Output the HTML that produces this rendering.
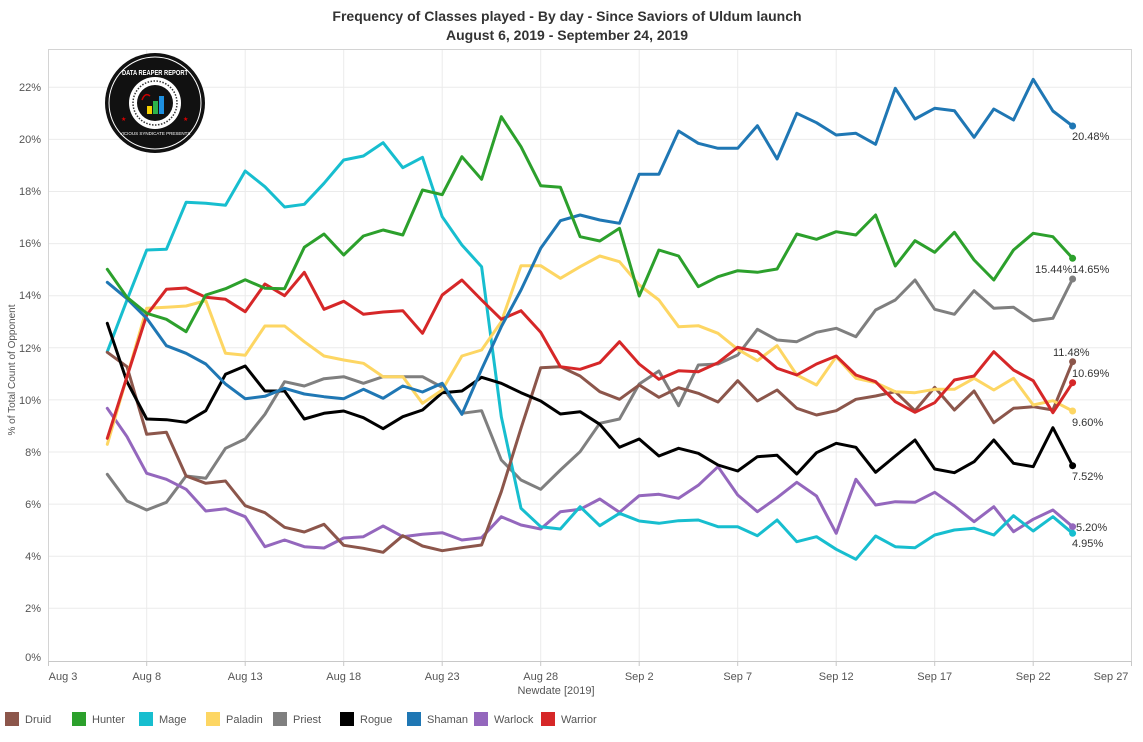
<!DOCTYPE html>
<html><head><meta charset="utf-8"><style>
body{margin:0;background:#fff;font-family:"Liberation Sans",Arial,sans-serif;}
svg{display:block}
</style></head><body>
<svg width="1143" height="742" viewBox="0 0 1143 742" xmlns="http://www.w3.org/2000/svg" font-family="Liberation Sans, Arial, sans-serif">
<rect width="1143" height="742" fill="#fff"/>
<text x="567" y="21" text-anchor="middle" font-size="14" font-weight="bold" fill="#333">Frequency of Classes played - By day - Since Saviors of Uldum launch</text>
<text x="567" y="40" text-anchor="middle" font-size="14" font-weight="bold" fill="#333">August 6, 2019 - September 24, 2019</text>
<g stroke="#ebebeb" stroke-width="1">
<line x1="48" y1="87.3" x2="1132" y2="87.3"/><line x1="48" y1="139.4" x2="1132" y2="139.4"/><line x1="48" y1="191.5" x2="1132" y2="191.5"/><line x1="48" y1="243.6" x2="1132" y2="243.6"/><line x1="48" y1="295.7" x2="1132" y2="295.7"/><line x1="48" y1="347.8" x2="1132" y2="347.8"/><line x1="48" y1="399.9" x2="1132" y2="399.9"/><line x1="48" y1="452" x2="1132" y2="452"/><line x1="48" y1="504.1" x2="1132" y2="504.1"/><line x1="48" y1="556.2" x2="1132" y2="556.2"/><line x1="48" y1="608.3" x2="1132" y2="608.3"/>
<line x1="146.7" y1="49" x2="146.7" y2="662"/><line x1="245.2" y1="49" x2="245.2" y2="662"/><line x1="343.7" y1="49" x2="343.7" y2="662"/><line x1="442.2" y1="49" x2="442.2" y2="662"/><line x1="540.7" y1="49" x2="540.7" y2="662"/><line x1="639.2" y1="49" x2="639.2" y2="662"/><line x1="737.7" y1="49" x2="737.7" y2="662"/><line x1="836.2" y1="49" x2="836.2" y2="662"/><line x1="934.7" y1="49" x2="934.7" y2="662"/><line x1="1033.2" y1="49" x2="1033.2" y2="662"/>
</g>
<line x1="48.5" y1="49" x2="48.5" y2="662" stroke="#d4d4d4"/>
<line x1="48" y1="49.5" x2="1132" y2="49.5" stroke="#d4d4d4"/>
<line x1="1131.5" y1="49" x2="1131.5" y2="662" stroke="#d4d4d4"/>
<line x1="48" y1="661.5" x2="1132" y2="661.5" stroke="#c8c8c8"/>
<g stroke="#c8c8c8"><line x1="48.5" y1="661" x2="48.5" y2="666"/><line x1="146.7" y1="661" x2="146.7" y2="666"/><line x1="245.2" y1="661" x2="245.2" y2="666"/><line x1="343.7" y1="661" x2="343.7" y2="666"/><line x1="442.2" y1="661" x2="442.2" y2="666"/><line x1="540.7" y1="661" x2="540.7" y2="666"/><line x1="639.2" y1="661" x2="639.2" y2="666"/><line x1="737.7" y1="661" x2="737.7" y2="666"/><line x1="836.2" y1="661" x2="836.2" y2="666"/><line x1="934.7" y1="661" x2="934.7" y2="666"/><line x1="1033.2" y1="661" x2="1033.2" y2="666"/><line x1="1131.5" y1="661" x2="1131.5" y2="666"/></g>
<g font-size="11" fill="#555" text-anchor="end">
<text x="41" y="91">22%</text><text x="41" y="143">20%</text><text x="41" y="195">18%</text><text x="41" y="247">16%</text><text x="41" y="299">14%</text><text x="41" y="352">12%</text><text x="41" y="404">10%</text><text x="41" y="456">8%</text><text x="41" y="508">6%</text><text x="41" y="560">4%</text><text x="41" y="612">2%</text><text x="41" y="661">0%</text>
</g>
<g font-size="11" fill="#555" text-anchor="middle">
<text x="63" y="680">Aug 3</text><text x="146.7" y="680">Aug 8</text><text x="245.2" y="680">Aug 13</text><text x="343.7" y="680">Aug 18</text><text x="442.2" y="680">Aug 23</text><text x="540.7" y="680">Aug 28</text><text x="639.2" y="680">Sep 2</text><text x="737.7" y="680">Sep 7</text><text x="836.2" y="680">Sep 12</text><text x="934.7" y="680">Sep 17</text><text x="1033.2" y="680">Sep 22</text><text x="1111" y="680">Sep 27</text>
<text x="556" y="694">Newdate [2019]</text>
</g>
<text transform="translate(15,370) rotate(-90)" text-anchor="middle" font-size="10" fill="#555">% of Total Count of Opponent</text>
<g>
<circle cx="155" cy="103" r="50" fill="#111"/>
<circle cx="155" cy="103" r="46" fill="none" stroke="#fff" stroke-width="1"/>
<circle cx="155" cy="103" r="26" fill="#fff"/>
<circle cx="155" cy="103" r="22" fill="none" stroke="#333" stroke-width="1.5" stroke-dasharray="1.5 1.5"/>
<circle cx="155" cy="103" r="18" fill="#111"/>
<rect x="147" y="106" width="5" height="8" fill="#f5d000"/><rect x="153" y="101" width="5" height="13" fill="#2db34a"/><rect x="159" y="96" width="5" height="18" fill="#1e90e0"/>
<path d="M142 100 q3-8 8-4" stroke="#c00" stroke-width="1.5" fill="none"/>
<text x="155" y="75" text-anchor="middle" font-size="7.5" font-weight="bold" fill="#fff" textLength="66" lengthAdjust="spacingAndGlyphs">DATA REAPER REPORT</text>
<text x="155" y="135" text-anchor="middle" font-size="4.5" fill="#fff">VICIOUS SYNDICATE PRESENTS</text>
<text x="121" y="121" font-size="6" fill="#d00">★</text><text x="183" y="121" font-size="6" fill="#d00">★</text>
</g>
<g fill="none" stroke-width="3" stroke-linejoin="round" stroke-linecap="round" transform="translate(107.3,0) scale(19.7,1)">
<polyline vector-effect="non-scaling-stroke" stroke="#7f7f7f" points="0,474.3 1,501 2,510 3,502.3 4,476 5,478.3 6,448.3 7,439 8,414.3 9,381.7 10,386 11,378.7 12,376.7 13,383.3 14,376.7 15,376.7 16,376.7 17,387.3 18,413.3 19,410.7 20,460 21,480 22,489.3 23,470 24,451.7 25,423.3 26,419 27,384 28,371 29,405.7 30,365 31,364 32,355 33,329.3 34,340 35,341.7 36,332.3 37,328.3 38,336.7 39,310 40,300 41,280 42,309.3 43,314.3 44,290.7 45,308.3 46,307.3 47,320.7 48,318.3 49,279"/>
<polyline vector-effect="non-scaling-stroke" stroke="#9467bd" points="0,408.3 1,436.7 2,473.3 3,479.3 4,489.3 5,511 6,508.7 7,516.7 8,546.7 9,540 10,546.7 11,548 12,538 13,536.7 14,526 15,536.7 16,534.3 17,532.7 18,540 19,537.7 20,516.7 21,525 22,529 23,511.7 24,509.3 25,499 26,512.3 27,495.7 28,494.3 29,498.3 30,485.3 31,466.7 32,495 33,511.7 34,497.7 35,482.3 36,496 37,533.3 38,479.3 39,505 40,501.7 41,502.3 42,492.3 43,506 44,521.7 45,506.7 46,531.7 47,519.3 48,510 49,526.7"/>
<polyline vector-effect="non-scaling-stroke" stroke="#17becf" points="0,351.7 1,300 2,250 3,249.3 4,202.3 5,203.3 6,205.3 7,171 8,186.7 9,207 10,204.3 11,183.3 12,160 13,156 14,142.7 15,167.7 16,157.3 17,216.7 18,245 19,266.7 20,416.7 21,508.3 22,526.7 23,529 24,506.7 25,525.7 26,513.3 27,521 28,523.3 29,520.7 30,520 31,526.7 32,526.7 33,535.7 34,520 35,541.7 36,536.7 37,549.3 38,559.3 39,536 40,546.7 41,547.7 42,535 43,530 44,528.3 45,535 46,515.7 47,531 48,516.7 49,533.3"/>
<polyline vector-effect="non-scaling-stroke" stroke="#8c564b" points="0,352.3 1,366.7 2,434.3 3,432.3 4,476 5,483.3 6,481 7,505.7 8,512.7 9,527.3 10,532 11,524.3 12,545.3 13,548.3 14,552.3 15,535.7 16,546 17,550.7 18,547.7 19,545 20,491.7 21,428.3 22,367.7 23,366.7 24,376 25,391.7 26,399.3 27,385 28,397.3 29,387.7 30,393.3 31,402 32,380.7 33,401 34,390 35,408.3 36,415 37,410.7 38,399.3 39,396 40,391.7 41,410.7 42,387.3 43,410 44,391 45,422.7 46,408.3 47,406.7 48,410 49,361.7"/>
<polyline vector-effect="non-scaling-stroke" stroke="#000" points="0,323.3 1,381.7 2,419 3,419.7 4,422.3 5,410.7 6,374.3 7,366 8,391 9,391 10,419 11,413.3 12,411 13,417.7 14,428.7 15,416.7 16,410 17,392.7 18,391 19,377.3 20,383.3 21,392.7 22,401 23,414 24,411.7 25,424.3 26,447.3 27,439 28,456 29,448.3 30,453.3 31,465 32,471 33,456.7 34,455.3 35,474 36,452.7 37,443.3 38,447.3 39,472.3 40,456 41,440 42,469 43,472.7 44,461.7 45,440 46,463.3 47,466.7 48,427.7 49,465.7"/>
<polyline vector-effect="non-scaling-stroke" stroke="#fdd663" points="0,444.3 1,376.7 2,308.3 3,307.3 4,306 5,300.7 6,353.3 7,355.3 8,326 9,326 10,341.7 11,356 12,360 13,363.3 14,376.7 15,376.7 16,403.3 17,390 18,356 19,350 20,321.7 21,265.7 22,265.7 23,278.3 24,266.7 25,256 26,261.7 27,285 28,300 29,326.7 30,325.7 31,333.3 32,349.3 33,360.7 34,345.7 35,375 36,385 37,356.7 38,378.3 39,382.7 40,391.7 41,392.7 42,389.3 43,389.3 44,378.3 45,390 46,378.3 47,405 48,400.7 49,411"/>
<polyline vector-effect="non-scaling-stroke" stroke="#d62728" points="0,438.3 1,376.7 2,315 3,289.3 4,288 5,297.3 6,299.3 7,311.7 8,284 9,295.7 10,272.3 11,309.3 12,301.3 13,314.3 14,312 15,310.7 16,333.3 17,295 18,280 19,300 20,319.3 21,310.7 22,332.3 23,366.7 24,369.3 25,362.7 26,341.7 27,364 28,379.3 29,370.7 30,371.7 31,362.7 32,347.3 33,351.7 34,368.3 35,375 36,364 37,356 38,375 39,381.7 40,401.7 41,412.3 42,402.7 43,380 44,376 45,351.7 46,370 47,380.7 48,412.7 49,382.7"/>
<polyline vector-effect="non-scaling-stroke" stroke="#1f77b4" points="0,282.3 1,298.7 2,318.3 3,345.7 4,353.3 5,364 6,384 7,398.7 8,396.3 9,388.3 10,394 11,396.7 12,398.7 13,389.3 14,398.3 15,386 16,392 17,383.3 18,414.3 19,369.3 20,326.7 21,290 22,248.3 23,220.7 24,215 25,220 26,223.3 27,174.3 28,174.3 29,131 30,143.3 31,148.3 32,148.3 33,125.7 34,159 35,113.3 36,122.7 37,135 38,133.3 39,144.3 40,88.3 41,119 42,108.3 43,110.7 44,137.3 45,109 46,120 47,79.3 48,111 49,126"/>
<polyline vector-effect="non-scaling-stroke" stroke="#2ca02c" points="0,269.3 1,297.3 2,313.3 3,319.3 4,331.7 5,295 6,288.7 7,279.7 8,288.3 9,288.7 10,247.3 11,234 12,255 13,236 14,230 15,235 16,190 17,194.7 18,156.7 19,179.3 20,116.7 21,146.7 22,185.7 23,187.3 24,236.7 25,241 26,228.3 27,296 28,250 29,256 30,286.7 31,276.7 32,270.7 33,272.3 34,269 35,234 36,239.3 37,231.7 38,235 39,215 40,266 41,240.7 42,252.3 43,232.3 44,260 45,280 46,250 47,233.3 48,236.7 49,258.3"/>
</g>
<g>
<circle cx="1072.6" cy="126" r="3.5" fill="#1f77b4"/>
<circle cx="1072.6" cy="258.3" r="3.5" fill="#2ca02c"/>
<circle cx="1072.6" cy="279" r="3.5" fill="#7f7f7f"/>
<circle cx="1072.6" cy="361.7" r="3.5" fill="#8c564b"/>
<circle cx="1072.6" cy="382.7" r="3.5" fill="#d62728"/>
<circle cx="1072.6" cy="411" r="3.5" fill="#fdd663"/>
<circle cx="1072.6" cy="465.7" r="3.5" fill="#000"/>
<circle cx="1072.6" cy="526.7" r="3.5" fill="#9467bd"/>
<circle cx="1072.6" cy="533.3" r="3.5" fill="#17becf"/>
</g>
<g font-size="11" fill="#333">
<text x="1072" y="140">20.48%</text>
<text x="1035" y="273">15.44%</text><text x="1072" y="273">14.65%</text>
<text x="1053" y="356">11.48%</text>
<text x="1072" y="377">10.69%</text>
<text x="1072" y="426">9.60%</text>
<text x="1072" y="480">7.52%</text>
<text x="1076" y="531">5.20%</text>
<text x="1072" y="547">4.95%</text>
</g>
<g font-size="11" fill="#555">
<rect x="5" y="712" width="14" height="14" fill="#8c564b"/><text x="25" y="723">Druid</text>
<rect x="72" y="712" width="14" height="14" fill="#2ca02c"/><text x="92" y="723">Hunter</text>
<rect x="139" y="712" width="14" height="14" fill="#17becf"/><text x="159" y="723">Mage</text>
<rect x="206" y="712" width="14" height="14" fill="#fdd663"/><text x="226" y="723">Paladin</text>
<rect x="273" y="712" width="14" height="14" fill="#7f7f7f"/><text x="293" y="723">Priest</text>
<rect x="340" y="712" width="14" height="14" fill="#000"/><text x="360" y="723">Rogue</text>
<rect x="407" y="712" width="14" height="14" fill="#1f77b4"/><text x="427" y="723">Shaman</text>
<rect x="474" y="712" width="14" height="14" fill="#9467bd"/><text x="494" y="723">Warlock</text>
<rect x="541" y="712" width="14" height="14" fill="#d62728"/><text x="561" y="723">Warrior</text>
</g>
</svg>
</body></html>
